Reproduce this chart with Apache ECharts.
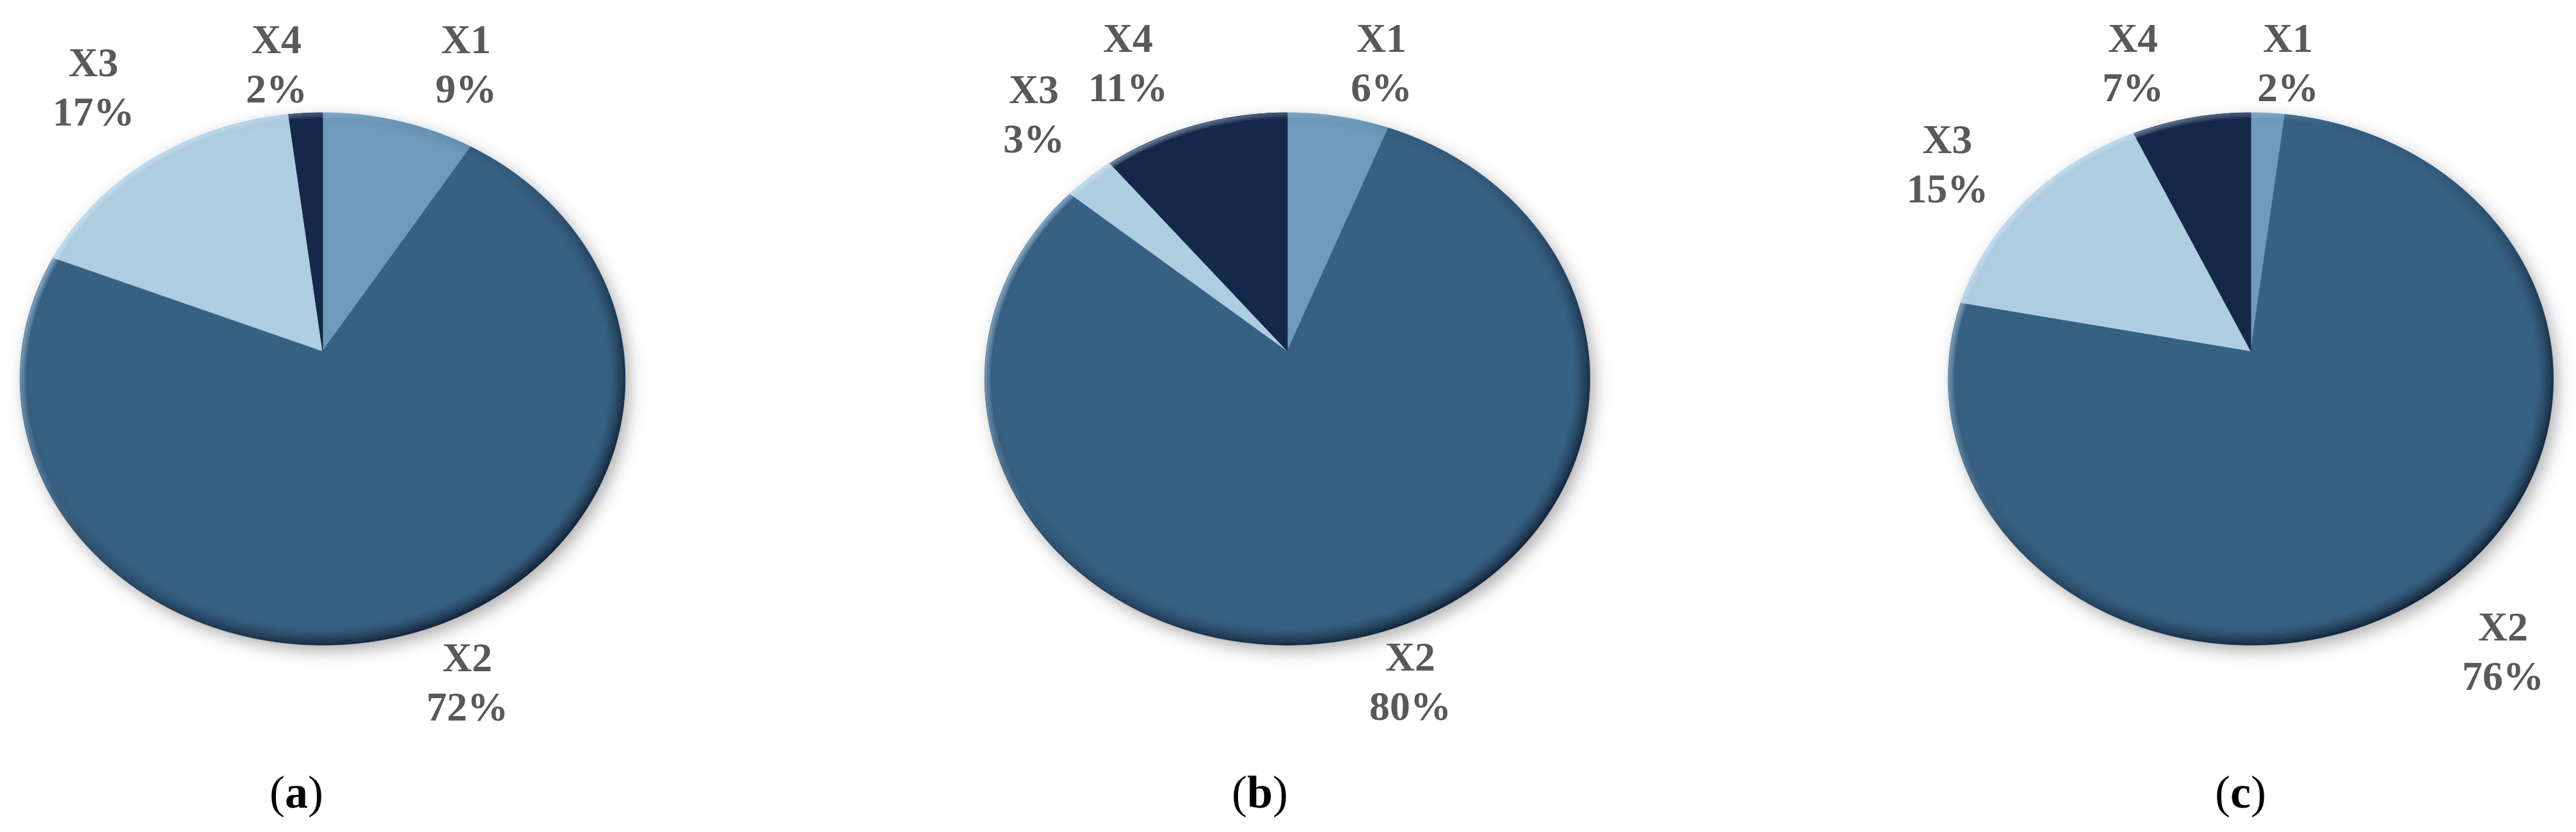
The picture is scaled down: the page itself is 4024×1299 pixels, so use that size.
<!DOCTYPE html>
<html>
<head>
<meta charset="utf-8">
<title>X1-X4 share pies</title>
<script src="https://cdn.jsdelivr.net/npm/echarts@6/dist/echarts.min.js"></script>
<style>
  html, body { margin: 0; padding: 0; background: #ffffff; }
  #chart { width: 4024px; height: 1299px; }
</style>
</head>
<body>
<div id="chart"></div>
<script>
// categories and shares (%) for the three panels
const categories = ['X1', 'X2', 'X3', 'X4']
const shareA = [9, 72, 17, 2]
const shareB = [6, 80, 3, 11]
const shareC = [2, 76, 15, 7]
const panelTags = ['a', 'b', 'c']

const sliceColors = ['#6e9bbc', '#376183', '#aecde0', '#16284a']
const labelColor = '#595959'
const FONT = '"Liberation Serif", "Times New Roman", serif'

// pie geometry: slightly tilted disc, far side smaller than near side
const PIE_CX = [504, 2011, 3516]
const APEX_Y = 548
const RAD_X = 470
const RAD_Y = 411
const PERSP = 0.105

// label centre offsets from the apex, one per category
const labelOffA = [[224, -443], [226, 522], [-358, -407], [-72, -443]]
const labelOffB = [[147, -445], [192, 521], [-396, -365], [-249, -445]]
const labelOffC = [[58, -445], [394, 474], [-474, -287], [-184, -445]]

// caption centres
const captionX = [463, 1968, 3500]
const captionY = 1242

// point on the rim for angle theta (clockwise from 12 o'clock), pulled in by dr
function rimPoint(cx, theta, dr) {
  const u = Math.sin(theta)
  const v = Math.cos(theta)
  const s = 1 / (1 + PERSP * v)
  return [cx + (RAD_X - dr) * u * s, APEX_Y - (RAD_Y - dr) * v * s]
}

function rimPath(cx, a0, a1, dr) {
  const pts = []
  const steps = Math.max(2, Math.ceil(Math.abs(a1 - a0) / (Math.PI / 360)))
  for (let k = 0; k <= steps; k++) {
    pts.push(rimPoint(cx, a0 + (a1 - a0) * k / steps, dr))
  }
  return pts
}

function makeRenderItem(panel, shares, labelOff) {
  const total = shares.reduce((a, b) => a + b, 0)
  const cx = PIE_CX[panel]

  return function (params, api) {
    const i = params.dataIndex
    const value = api.value(0)
    let before = 0
    for (let k = 0; k < i; k++) before += shares[k]
    const a0 = before / total * Math.PI * 2
    const a1 = (before + value) / total * Math.PI * 2

    const children = []

    // slice
    children.push({
      type: 'polygon',
      z2: 1,
      shape: { points: [[cx, APEX_Y]].concat(rimPath(cx, a0, a1, 0)) },
      style: { fill: sliceColors[i], stroke: sliceColors[i], lineWidth: 1 },
    })

    // label
    children.push({
      type: 'text',
      z2: 10,
      x: cx + labelOff[i][0],
      y: APEX_Y + labelOff[i][1],
      style: {
        text: categories[i] + '\n' + value + '%',
        font: 'bold 64px ' + FONT,
        fill: labelColor,
        align: 'center',
        verticalAlign: 'middle',
        lineHeight: 77,
      },
    })

    if (i === 0) {
      const full = rimPath(cx, 0, Math.PI * 2, 0)

      // drop shadow under the whole disc
      children.push({
        type: 'polygon',
        z2: 0,
        shape: { points: full },
        style: {
          fill: sliceColors[1],
          shadowBlur: 26,
          shadowOffsetX: 7,
          shadowOffsetY: 9,
          shadowColor: 'rgba(0, 0, 0, 0.32)',
        },
      })

      // dark bevel towards the lower right
      const rings = 9
      for (let k = 0; k < rings; k++) {
        const a = 0.95 * Math.pow(1 - k / rings, 1.6)
        children.push({
          type: 'polygon',
          z2: 5,
          shape: { points: rimPath(cx, 0, Math.PI * 2, 1.5 + 3 * k) },
          style: {
            fill: 'none',
            lineWidth: 3.2,
            stroke: new echarts.graphic.LinearGradient(
              cx - 300, 230, cx + 240, 1007,
              [
                { offset: 0, color: 'rgba(12, 28, 48, 0)' },
                { offset: 0.4, color: 'rgba(12, 28, 48, ' + (0.12 * a) + ')' },
                { offset: 0.75, color: 'rgba(12, 28, 48, ' + (0.65 * a) + ')' },
                { offset: 1, color: 'rgba(12, 28, 48, ' + a + ')' },
              ],
              true
            ),
          },
        })
      }

      // light rim at the upper left
      for (let k = 0; k < 3; k++) {
        children.push({
          type: 'polygon',
          z2: 6,
          shape: { points: rimPath(cx, 0, Math.PI * 2, 1.5 + 3 * k) },
          style: {
            fill: 'none',
            lineWidth: 3.2,
            stroke: new echarts.graphic.LinearGradient(
              cx - 470, 300, cx - 150, 560,
              [
                { offset: 0, color: 'rgba(215, 236, 250, ' + (0.6 - 0.18 * k) + ')' },
                { offset: 1, color: 'rgba(215, 236, 250, 0)' },
              ],
              true
            ),
          },
        })
      }
    }

    return { type: 'group', children: children }
  }
}

function pieSeries(panel, shares, labelOff) {
  return {
    type: 'custom',
    coordinateSystem: 'none',
    silent: true,
    renderItem: makeRenderItem(panel, shares, labelOff),
    data: categories.map((c, i) => ({ name: c, value: [shares[i]] })),
  }
}

const chart = echarts.init(document.getElementById('chart'), null, { renderer: 'canvas' })

chart.setOption({
  backgroundColor: '#ffffff',
  animation: false,
  graphic: panelTags.map((tag, p) => ({
    type: 'text',
    x: captionX[p],
    y: captionY,
    style: {
      text: '{n|(}{b|' + tag + '}{n|)}',
      align: 'center',
      verticalAlign: 'middle',
      fill: '#000000',
      rich: {
        n: { font: '72px ' + FONT, fill: '#000000' },
        b: { font: 'bold 72px ' + FONT, fill: '#000000' },
      },
    },
  })),
  series: [
    pieSeries(0, shareA, labelOffA),
    pieSeries(1, shareB, labelOffB),
    pieSeries(2, shareC, labelOffC),
  ],
})
</script>
</body>
</html>
